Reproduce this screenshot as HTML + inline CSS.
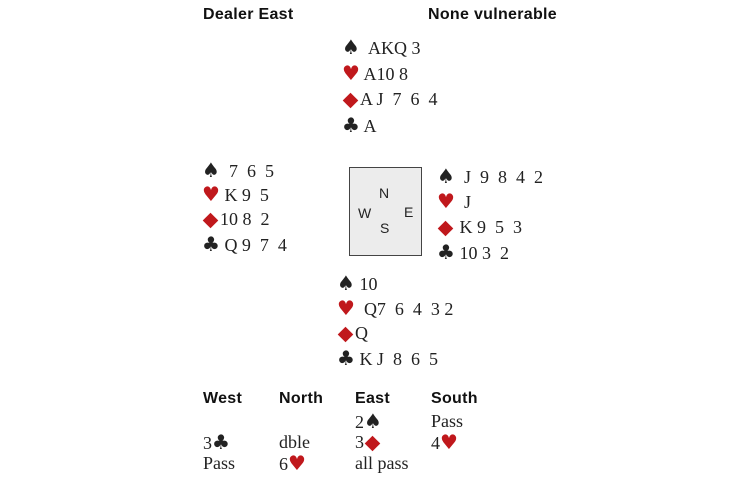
<!DOCTYPE html>
<html><head><meta charset="utf-8"><style>
body{margin:0;width:730px;height:486px;background:#fff;position:relative;overflow:hidden;font-family:"Liberation Serif",serif;color:#222}
.t{position:absolute;font-size:18px;line-height:20px;white-space:pre}
.h{position:absolute;font-family:"Liberation Sans",sans-serif;font-weight:bold;font-size:16px;line-height:18px;color:#111;letter-spacing:0.3px}
.r{color:#c0181c}
.s{font-family:"DejaVu Sans",sans-serif;font-size:20px;line-height:20px}
.d{display:inline-block;width:11px;height:11px;background:#c0181c;transform:rotate(45deg);margin:0 4px 1px 3px;vertical-align:middle}
.box{position:absolute;left:349px;top:167px;width:71px;height:87px;border:1px solid #444;background:#ececec}
.c{position:absolute;font-family:"Liberation Sans",sans-serif;font-size:14px;line-height:16px;color:#222}
</style></head><body>
<div class="h" style="left:203px;top:6px">Dealer East</div>
<div class="h" style="left:428px;top:6px">None vulnerable</div>

<div class="t" style="left:342px;top:37px"><span class="s">♠</span>  AKQ 3</div>
<div class="t" style="left:342px;top:63px"><span class="s r">♥</span> A10 8</div>
<div class="t" style="left:342px;top:89px"><span class="d"></span>A J  7  6  4</div>
<div class="t" style="left:342px;top:115px"><span class="s">♣</span> A</div>

<div class="t" style="left:202px;top:160px"><span class="s">♠</span>  7  6  5</div>
<div class="t" style="left:202px;top:184px"><span class="s r">♥</span> K 9  5</div>
<div class="t" style="left:202px;top:209px"><span class="d"></span>10 8  2</div>
<div class="t" style="left:202px;top:234px"><span class="s">♣</span> Q 9  7  4</div>

<div class="box"></div>
<div class="c" style="left:379px;top:185px">N</div>
<div class="c" style="left:358px;top:205px">W</div>
<div class="c" style="left:404px;top:204px">E</div>
<div class="c" style="left:380px;top:220px">S</div>

<div class="t" style="left:437px;top:166px"><span class="s">♠</span>  J  9  8  4  2</div>
<div class="t" style="left:437px;top:191px"><span class="s r">♥</span>  J</div>
<div class="t" style="left:437px;top:217px"><span class="d"></span> K 9  5  3</div>
<div class="t" style="left:437px;top:242px"><span class="s">♣</span> 10 3  2</div>

<div class="t" style="left:337px;top:273px"><span class="s">♠</span> 10</div>
<div class="t" style="left:337px;top:298px"><span class="s r">♥</span>  Q7  6  4  3 2</div>
<div class="t" style="left:337px;top:323px"><span class="d"></span>Q</div>
<div class="t" style="left:337px;top:348px"><span class="s">♣</span> K J  8  6  5</div>

<div class="h" style="left:203px;top:390px">West</div>
<div class="h" style="left:279px;top:390px">North</div>
<div class="h" style="left:355px;top:390px">East</div>
<div class="h" style="left:431px;top:390px">South</div>

<div class="t" style="left:355px;top:411px">2<span class="s">♠</span></div>
<div class="t" style="left:431px;top:411px">Pass</div>
<div class="t" style="left:203px;top:432px">3<span class="s">♣</span></div>
<div class="t" style="left:279px;top:432px">dble</div>
<div class="t" style="left:355px;top:432px">3<span class="d"></span></div>
<div class="t" style="left:431px;top:432px">4<span class="s r">♥</span></div>
<div class="t" style="left:203px;top:453px">Pass</div>
<div class="t" style="left:279px;top:453px">6<span class="s r">♥</span></div>
<div class="t" style="left:355px;top:453px">all pass</div>
</body></html>
